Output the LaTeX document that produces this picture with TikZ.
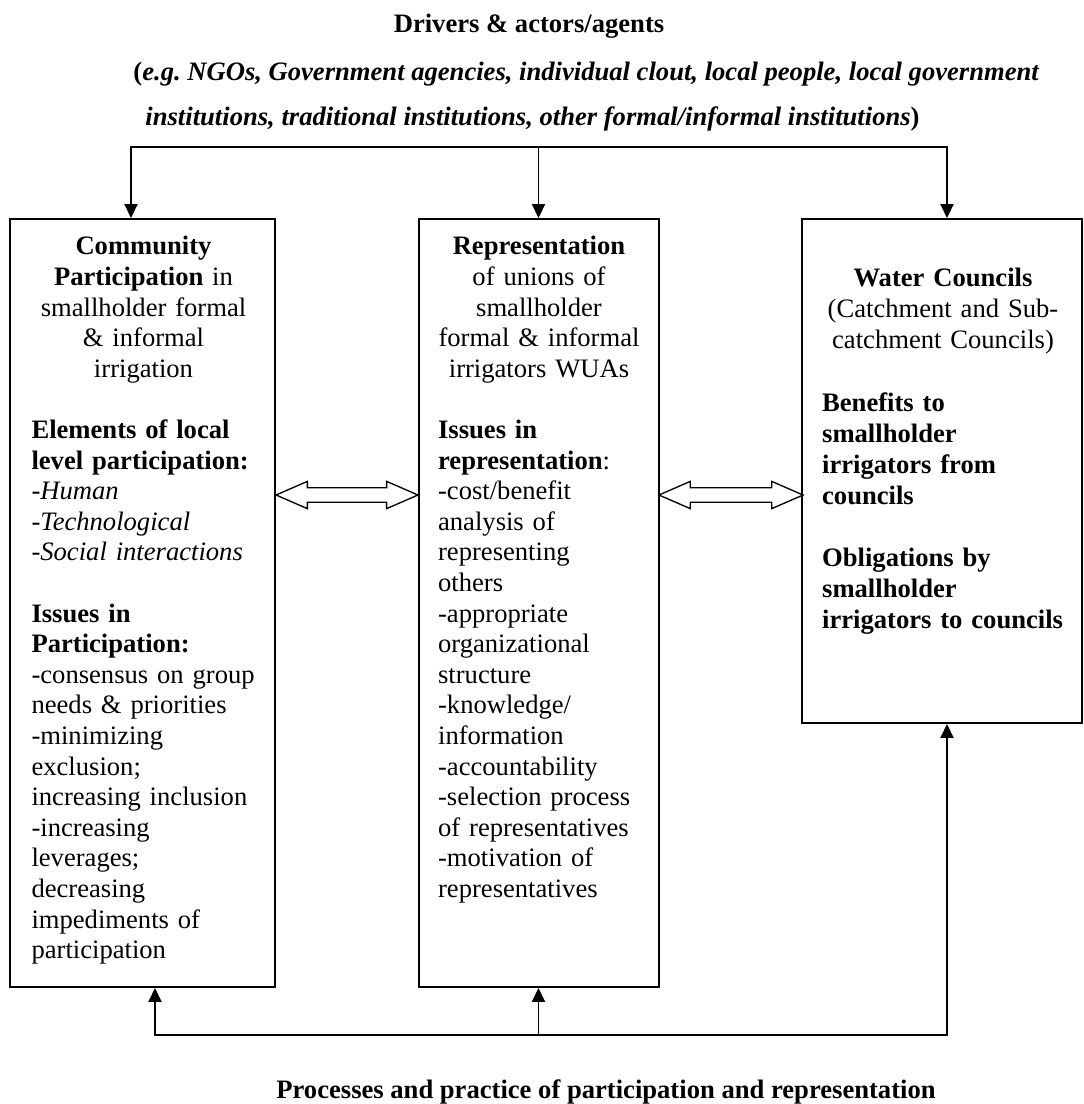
\documentclass[tikz,border=0pt,12pt]{standalone}
\usepackage{fontspec}
\setmainfont{Liberation Serif}
\usetikzlibrary{arrows.meta,fit,shapes.arrows}
\frenchspacing
\newcommand{\panel}[5]{\node[panel,fit={(#2,#3) (#4,#5)}] (#1) {};}
\newcommand{\feed}[2]{\draw[link,->] (#1) -- (#2);}
\tikzset{
  panel/.style={draw,line width=0.9pt,inner sep=0pt},
  link/.style={line width=0.75pt},
  paneltext/.style={anchor=north,inner sep=0pt,align=left,font=\fontsize{12}{13.8}\selectfont},
  twoway/.style={shape=double arrow,draw,line width=0.6pt,inner xsep=0pt,inner ysep=2.95pt,
    double arrow head extend=2.9pt,double arrow tip angle=47},
  heading/.style={inner sep=0pt}
}

\begin{document}
\begin{tikzpicture}[x=0.451pt,y=-0.451pt,>={Triangle[length=6.3pt,width=5.9pt]}]
    \useasboundingbox (0,0) rectangle (1084,1104);
    % who drives it
    \node[heading,anchor=base] (drivers) at (529,32) {\textbf{Drivers \& actors/agents}};
    \node[heading,anchor=base west] (actors1) at (133,80) {\textbf{(}\textbf{\textit{e.g. NGOs, Government agencies, individual clout, local people, local government}}};
    \node[heading,anchor=base west] (actors2) at (145,125) {\textbf{\textit{institutions, traditional institutions, other formal/informal institutions}}\textbf{)}};

    \panel{part}{10}{219}{275}{987}
    \panel{repr}{419}{219}{659}{987}
    \panel{coun}{802}{219}{1082}{723}

    \node[paneltext,text width=101pt] (parttext) at (143.5,236) {%
      {\centering\textbf{Community}\\ \textbf{Participation} in\\ smallholder formal\\ \& informal\\ irrigation\par}
      \vspace{13.8pt}
      \textbf{Elements of local}\\ \textbf{level participation:}\\
      \textit{-Human}\\ \textit{-Technological}\\ \textit{-Social interactions}\par
      \vspace{13.8pt}
      \textbf{Issues in}\\ \textbf{Participation:}\\
      -consensus on group\\ needs \& priorities\\ -minimizing\\ exclusion;\\
      increasing inclusion\\ -increasing\\ leverages;\\ decreasing\\
      impediments of\\ participation};
    \node[paneltext,text width=91pt] (reprtext) at (539,236) {%
      {\centering\textbf{Representation}\\ of unions of\\ smallholder\\ formal \& informal\\ irrigators WUAs\par}
      \vspace{13.8pt}
      \textbf{Issues in}\\ \textbf{representation}:\\
      -cost/benefit\\ analysis of\\ representing\\ others\\ -appropriate\\
      organizational\\ structure\\ -knowledge/\\ information\\ -accountability\\
      -selection process\\ of representatives\\ -motivation of\\ representatives};
    \node[paneltext,text width=109pt,font=\fontsize{12}{14}\selectfont] (countext) at (943,268) {%
      {\centering\textbf{Water Councils}\\ (Catchment and Sub-\\ catchment Councils)\par}
      \vspace{14pt}
      \textbf{Benefits to}\\ \textbf{smallholder}\\ \textbf{irrigators from}\\ \textbf{councils}\par
      \vspace{14pt}
      \textbf{Obligations by}\\ \textbf{smallholder}\\ \textbf{irrigators to councils}};

    \node[twoway,minimum height=64pt] (partrepr) at (347,495) {};
    \node[twoway,minimum height=65pt] (reprcoun) at (731,495) {};

    % top and bottom buses
    \coordinate (topL) at (131,147); \coordinate (topM) at (538.5,147); \coordinate (topR) at (947,147);
    \coordinate (botL) at (155,1035); \coordinate (botM) at (538.5,1035); \coordinate (botR) at (947,1035);
    \draw[link,<->] (topL |- part.north) -- (topL) -- (topR) -- (topR |- coun.north);
    \feed{topM}{topM |- repr.north}
    \draw[link,<->] (botL |- part.south) -- (botL) -- (botR) -- (botR |- coun.south);
    \feed{botM}{botM |- repr.south}

    \node[heading,anchor=base] (process) at (606,1098) {\textbf{Processes and practice of participation and representation}};
\end{tikzpicture}
\end{document}
